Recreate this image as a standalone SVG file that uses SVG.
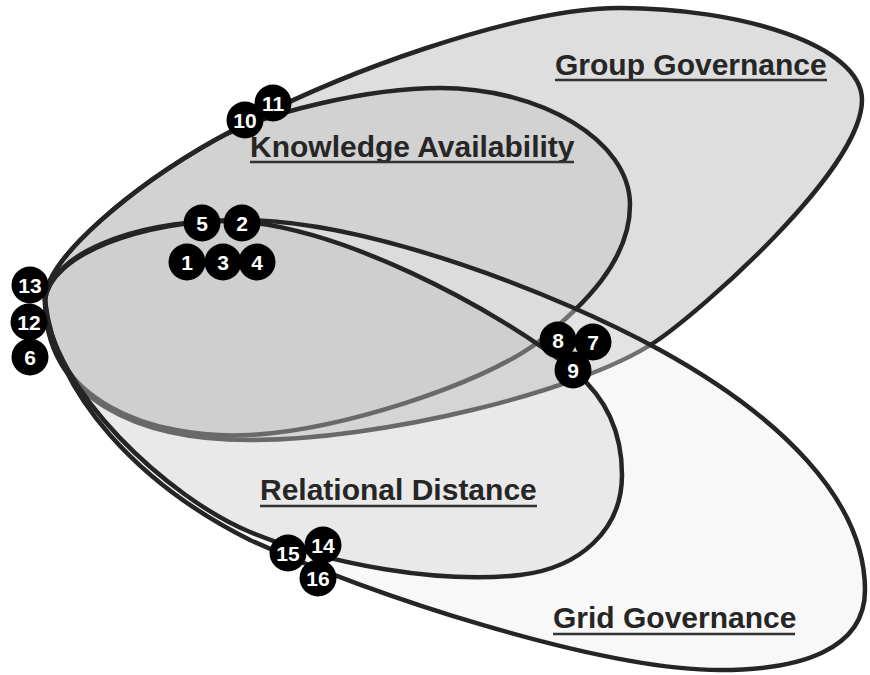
<svg xmlns="http://www.w3.org/2000/svg" width="870" height="675" viewBox="0 0 870 675">
<style>
.set{stroke:#252525;stroke-width:4.5;stroke-linejoin:round}
.lbl{font-family:"Liberation Sans",Arial,sans-serif;font-weight:bold;font-size:30px;fill:#262626}
.ul{stroke:#333;stroke-width:2.6}
.mk circle{fill:#000}
.mk text{font-family:"Liberation Sans",Arial,sans-serif;font-weight:bold;font-size:21px;fill:#fff;text-anchor:middle}
</style>
<rect width="870" height="675" fill="#fff"/>
<g id="group-governance">
<path class="set" fill="#dedede" d="M45,300 C45,258 135,185 215,140 C335,72 520,8 620,8 C740,8 862,45 862,100 C862,170 700,312 655,342 C580,392 380,440 250,440 C140,440 45,400 45,300 Z"/>
</g>
<g id="knowledge-availability">
<path class="set" fill="#000" fill-opacity="0.05" d="M45,300 C45,258 135,185 215,140 C265,112 370,88 440,88 C540,88 630,140 630,205 C630,260 585,305 537,343 C480,385 340,430 250,435 C150,440 45,400 45,300 Z"/>
</g>
<g id="grid-governance">
<path class="set" fill="#ededed" fill-opacity="0.376" d="M45,300 C50,255 140,220 240,220 C370,220 560,295 660,350 C780,416 865,500 865,590 C865,650 800,670 720,670 C600,670 370,595 250,540 C140,485 55,395 45,300 Z"/>
</g>
<g id="relational-distance">
<path class="set" fill="#000" fill-opacity="0.06" d="M45,300 C50,255 130,222 225,221 C330,220 500,310 575,372 C605,397 622,430 622,475 C622,530 580,568 520,575 C440,584 330,565 250,532 C170,499 50,390 45,300 Z"/>
</g>
<g id="labels">
<text class="lbl" x="555" y="75">Group Governance</text>
<line class="ul" x1="555" y1="80" x2="827" y2="80"/>
<text class="lbl" x="250" y="157">Knowledge Availability</text>
<line class="ul" x1="250" y1="162" x2="574" y2="162"/>
<text class="lbl" x="260" y="500">Relational Distance</text>
<line class="ul" x1="260" y1="506" x2="537" y2="506"/>
<text class="lbl" x="553" y="628">Grid Governance</text>
<line class="ul" x1="553" y1="634" x2="795" y2="634"/>
</g>
<g id="m13" class="mk"><circle cx="30" cy="285" r="18.5"/><text x="30" y="292.5">13</text></g>
<g id="m12" class="mk"><circle cx="29" cy="322" r="18.5"/><text x="29" y="329.5">12</text></g>
<g id="m6" class="mk"><circle cx="30" cy="357" r="18.5"/><text x="30" y="364.5">6</text></g>
<g id="m5" class="mk"><circle cx="202" cy="223" r="18.5"/><text x="202" y="230.5">5</text></g>
<g id="m2" class="mk"><circle cx="242" cy="223" r="18.5"/><text x="242" y="230.5">2</text></g>
<g id="m1" class="mk"><circle cx="187" cy="262" r="18.5"/><text x="187" y="269.5">1</text></g>
<g id="m3" class="mk"><circle cx="223" cy="262" r="18.5"/><text x="223" y="269.5">3</text></g>
<g id="m4" class="mk"><circle cx="257" cy="262" r="18.5"/><text x="257" y="269.5">4</text></g>
<g id="m8" class="mk"><circle cx="558" cy="340" r="18.5"/><text x="558" y="347.5">8</text></g>
<g id="m7" class="mk"><circle cx="593" cy="342" r="18.5"/><text x="593" y="349.5">7</text></g>
<g id="m9" class="mk"><circle cx="573" cy="370" r="18.5"/><text x="573" y="377.5">9</text></g>
<g id="m10" class="mk"><circle cx="245" cy="120" r="18.5"/><text x="245" y="127.5">10</text></g>
<g id="m11" class="mk"><circle cx="273" cy="103" r="18.5"/><text x="273" y="110.5">11</text></g>
<g id="m15" class="mk"><circle cx="288" cy="553" r="18.5"/><text x="288" y="560.5">15</text></g>
<g id="m14" class="mk"><circle cx="323" cy="545" r="18.5"/><text x="323" y="552.5">14</text></g>
<g id="m16" class="mk"><circle cx="318" cy="578" r="18.5"/><text x="318" y="585.5">16</text></g>
</svg>
